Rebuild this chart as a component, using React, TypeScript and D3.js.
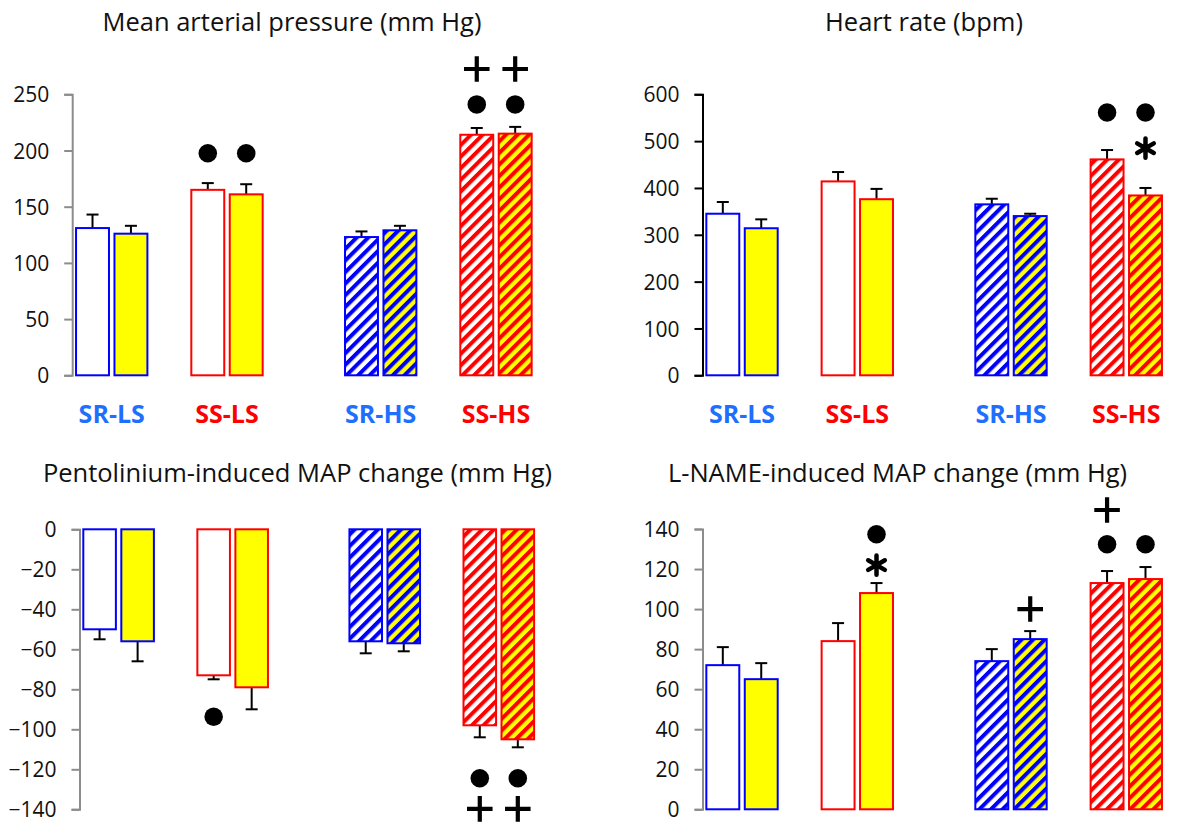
import React, { useEffect, useRef } from 'react'
import * as d3 from 'd3'

// groups and treatments (white = vehicle, yellow = treated)
const categories = ['SR-LS', 'SS-LS', 'SR-HS', 'SS-HS']
const treatments = ['Vehicle', 'Treated']

// mean values and SEM, one pair per group
const mapMean = [[131, 126], [165, 161], [123, 129], [214, 215]]
const mapErr = [[12, 7], [6, 9], [5, 4], [6, 6]]
const hrMean = [[345, 314], [414, 376], [365, 340], [461, 384]]
const hrErr = [[25, 19], [20, 22], [12, 5], [20, 16]]
const pentMean = [[-50, -56], [-73, -79], [-56, -57], [-98, -105]]
const pentErr = [[5, 10], [2, 11], [6, 4], [6, 4]]
const lnameMean = [[72, 65], [84, 108], [74, 85], [113, 115]]
const lnameErr = [[9, 8], [9, 5], [6, 4], [6, 6]]

// significance marks: group, treatment index, symbol, level (data units)
type Mark = { cat: string; t: number; sym: 'dot' | 'plus' | 'star'; at: number }
const mapMarks: Mark[] = [
  { cat: 'SS-LS', t: 0, sym: 'dot', at: 197.5 },
  { cat: 'SS-LS', t: 1, sym: 'dot', at: 197.5 },
  { cat: 'SS-HS', t: 0, sym: 'dot', at: 241 },
  { cat: 'SS-HS', t: 1, sym: 'dot', at: 241 },
  { cat: 'SS-HS', t: 0, sym: 'plus', at: 272.5 },
  { cat: 'SS-HS', t: 1, sym: 'plus', at: 272.5 },
]
const hrMarks: Mark[] = [
  { cat: 'SS-HS', t: 0, sym: 'dot', at: 561 },
  { cat: 'SS-HS', t: 1, sym: 'dot', at: 561 },
  { cat: 'SS-HS', t: 1, sym: 'star', at: 485 },
]
const pentMarks: Mark[] = [
  { cat: 'SS-LS', t: 0, sym: 'dot', at: -93.7 },
  { cat: 'SS-HS', t: 0, sym: 'dot', at: -124.5 },
  { cat: 'SS-HS', t: 1, sym: 'dot', at: -124.5 },
  { cat: 'SS-HS', t: 0, sym: 'plus', at: -139.8 },
  { cat: 'SS-HS', t: 1, sym: 'plus', at: -139.8 },
]
const lnameMarks: Mark[] = [
  { cat: 'SS-LS', t: 1, sym: 'star', at: 122 },
  { cat: 'SS-LS', t: 1, sym: 'dot', at: 137.4 },
  { cat: 'SR-HS', t: 1, sym: 'plus', at: 100 },
  { cat: 'SS-HS', t: 0, sym: 'dot', at: 132.4 },
  { cat: 'SS-HS', t: 0, sym: 'plus', at: 149.5 },
  { cat: 'SS-HS', t: 1, sym: 'dot', at: 132.4 },
]

const mapTicks = [0, 50, 100, 150, 200, 250]
const hrTicks = [0, 100, 200, 300, 400, 500, 600]
const pentTicks = [0, -20, -40, -60, -80, -100, -120, -140]
const lnameTicks = [0, 20, 40, 60, 80, 100, 120, 140]

// empty slots after each group (the gap between LS and HS is wider)
const gapsAfter = [1, 2, 1, 0]
const slots = categories.flatMap((c, i) => [
  ...treatments.map((_, t) => `${c}|${t}`),
  ...d3.range(gapsAfter[i]).map(g => `gap${i}-${g}`),
])

const FONT = "'Open Sans', 'DejaVu Sans', sans-serif"
const BLUE = '#0000ff'
const RED = '#ff0000'
const YELLOW = '#ffff00'
const LABEL_BLUE = '#1f6fff'

interface PanelProps {
  title: string
  titleX: number
  titleY: number
  xRange: [number, number]
  yDomain: [number, number]
  yRange: [number, number]
  ticks: number[]
  means: number[][]
  errs: number[][]
  marks: Mark[]
  axisColor: string
  showLabels: boolean
}

const YAxis = ({ x, y, ticks, color }: { x: number; y: d3.ScaleLinear<number, number>; ticks: number[]; color: string }) => {
  const ref = useRef<SVGGElement>(null)
  useEffect(() => {
    if (!ref.current) return
    const g = d3.select(ref.current)
    g.selectAll('*').remove()
    g.call(d3.axisLeft(y).tickValues(ticks).tickSize(8).tickSizeOuter(8).tickPadding(15).tickFormat(d3.format('d')))
    g.select('.domain').attr('stroke', color).attr('stroke-width', 2)
    g.selectAll('.tick line').attr('stroke', color).attr('stroke-width', 2)
    g.selectAll('.tick text')
      .attr('fill', '#111')
      .style('font-family', FONT)
      .style('font-size', '21px')
      .attr('dy', '0.36em')
  }, [y, ticks, color])
  return <g ref={ref} transform={`translate(${x},0)`} />
}

const Panel = (p: PanelProps) => {
  const x = d3.scaleBand<string>().domain(slots).range(p.xRange).paddingInner(0.143).paddingOuter(0.1)
  const y = d3.scaleLinear().domain(p.yDomain).range(p.yRange)
  const bw = x.bandwidth()
  const y0 = y(0)

  const symPath = (sym: Mark['sym']) => {
    if (sym === 'dot') return d3.symbol(d3.symbolCircle, 270)()
    if (sym === 'plus') return d3.symbol(d3.symbolPlus, 215)()
    return d3.symbol(d3.symbolAsterisk, 260)()
  }

  return (
    <g>
      <text x={p.titleX} y={p.titleY} textAnchor="middle" fontFamily={FONT} fontSize={25.5} fill="#111">
        {p.title}
      </text>
      {categories.map((c, ci) =>
        treatments.map((_, t) => {
          const v = p.means[ci][t]
          const e = p.errs[ci][t]
          const bx = x(`${c}|${t}`) as number
          const ss = c.startsWith('SS')
          const hs = c.endsWith('HS')
          const stroke = ss ? RED : BLUE
          const fill = hs ? `url(#hatch-${ss ? 'red' : 'blue'}-${t ? 'yellow' : 'white'})` : t ? YELLOW : '#fff'
          const top = Math.min(y(v), y0)
          const h = Math.abs(y(v) - y0)
          const ey = y(v + Math.sign(v) * e)
          const cx = bx + bw / 2
          return (
            <g key={`${c}-${t}`}>
              <line x1={cx} x2={cx} y1={y(v)} y2={ey} stroke="#000" strokeWidth={2} />
              <line x1={cx - 6} x2={cx + 6} y1={ey} y2={ey} stroke="#000" strokeWidth={2} />
              <rect x={bx} y={top} width={bw} height={h} fill={fill} stroke={stroke} strokeWidth={2} />
            </g>
          )
        })
      )}
      {p.marks.map((m, i) => {
        const cx = (x(`${m.cat}|${m.t}`) as number) + bw / 2
        const isStroke = m.sym !== 'dot'
        return (
          <path
            key={i}
            d={symPath(m.sym) || ''}
            transform={`translate(${cx},${y(m.at)})`}
            fill={isStroke ? 'none' : '#000'}
            stroke={isStroke ? '#000' : 'none'}
            strokeWidth={m.sym === 'plus' ? 4.2 : 4.5}
            strokeLinecap={m.sym === 'star' ? 'round' : 'butt'}
          />
        )
      })}
      <YAxis x={p.xRange[0]} y={y} ticks={p.ticks} color={p.axisColor} />
      {p.showLabels &&
        categories.map(c => {
          const cx = ((x(`${c}|0`) as number) + (x(`${c}|1`) as number) + bw) / 2
          return (
            <text
              key={c}
              x={cx}
              y={423}
              textAnchor="middle"
              fontFamily={FONT}
              fontWeight={700}
              fontSize={25}
              fill={c.startsWith('SS') ? RED : LABEL_BLUE}
            >
              {c}
            </text>
          )
        })}
    </g>
  )
}

const Hatch = ({ id, line, bg }: { id: string; line: string; bg: string }) => (
  <pattern id={id} patternUnits="userSpaceOnUse" width={8.2} height={8.2} patternTransform="rotate(45)">
    <rect width={8.2} height={8.2} fill={bg} />
    <rect width={4} height={8.2} fill={line} />
  </pattern>
)

export default function App() {
  return (
    <svg width={1178} height={827} style={{ position: 'absolute', left: 0, top: 0, background: '#fff' }}>
      <defs>
        <Hatch id="hatch-blue-white" line={BLUE} bg="#fff" />
        <Hatch id="hatch-blue-yellow" line={BLUE} bg={YELLOW} />
        <Hatch id="hatch-red-white" line={RED} bg="#fff" />
        <Hatch id="hatch-red-yellow" line={RED} bg={YELLOW} />
      </defs>
      <rect width={1178} height={827} fill="#fff" />
      <Panel
        title="Mean arterial pressure (mm Hg)"
        titleX={292}
        titleY={31}
        xRange={[72.2, 535.5]}
        yDomain={[0, 250]}
        yRange={[375.3, 94.3]}
        ticks={mapTicks}
        means={mapMean}
        errs={mapErr}
        marks={mapMarks}
        axisColor="#8c8c8c"
        showLabels
      />
      <Panel
        title="Heart rate (bpm)"
        titleX={924}
        titleY={31}
        xRange={[702.5, 1165.8]}
        yDomain={[0, 600]}
        yRange={[375.3, 94.3]}
        ticks={hrTicks}
        means={hrMean}
        errs={hrErr}
        marks={hrMarks}
        axisColor="#000"
        showLabels
      />
      <Panel
        title="Pentolinium-induced MAP change (mm Hg)"
        titleX={297.5}
        titleY={481.7}
        xRange={[79.5, 537.9]}
        yDomain={[-140, 0]}
        yRange={[809.3, 529.3]}
        ticks={pentTicks}
        means={pentMean}
        errs={pentErr}
        marks={pentMarks}
        axisColor="#8c8c8c"
        showLabels={false}
      />
      <Panel
        title="L-NAME-induced MAP change (mm Hg)"
        titleX={897.5}
        titleY={481.7}
        xRange={[702.5, 1165.8]}
        yDomain={[0, 140]}
        yRange={[809.3, 529]}
        ticks={lnameTicks}
        means={lnameMean}
        errs={lnameErr}
        marks={lnameMarks}
        axisColor="#8c8c8c"
        showLabels={false}
      />
    </svg>
  )
}
